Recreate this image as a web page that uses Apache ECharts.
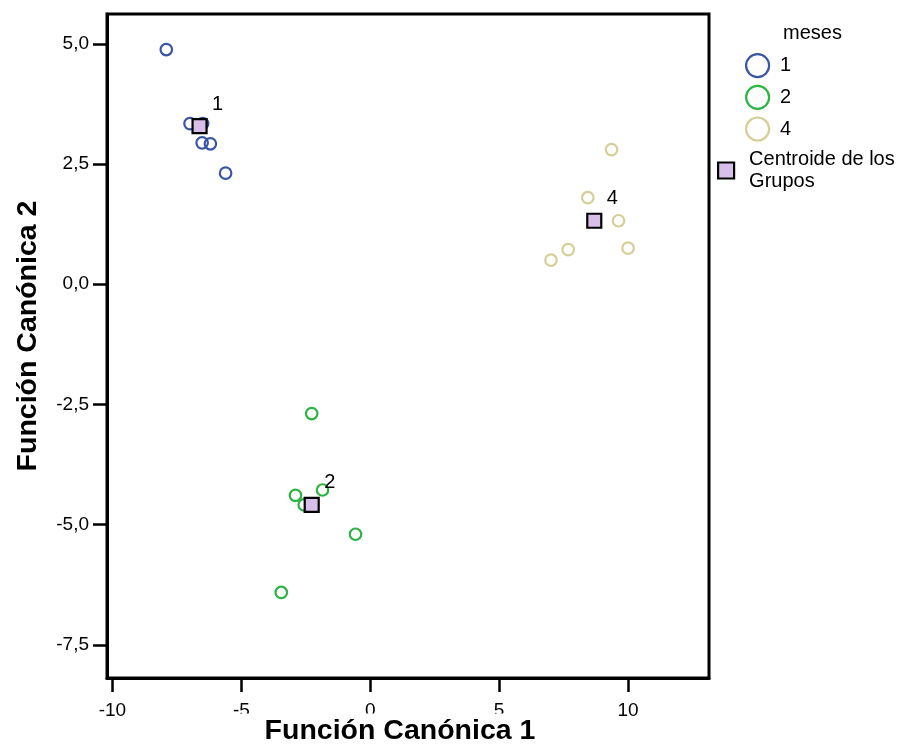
<!DOCTYPE html>
<html>
<head>
<meta charset="utf-8">
<script src="https://cdn.jsdelivr.net/npm/echarts@6/dist/echarts.min.js"></script>
<style>
html,body{margin:0;padding:0;background:#fff;}
#chart{width:904px;height:747px;}
</style>
</head>
<body>
<div id="chart"></div>
<script>
// Group "1" cases
const mes1X = [-7.91, -6.99, -6.50, -6.52, -6.20, -5.61];
const mes1Y = [4.88, 3.34, 3.34, 2.94, 2.92, 2.31];
// Group "2" cases
const mes2X = [-2.27, -2.90, -1.85, -2.56, -0.57, -3.45];
const mes2Y = [-2.69, -4.39, -4.28, -4.59, -5.20, -6.41];
// Group "4" cases
const mes4X = [9.36, 8.44, 9.63, 10.0, 7.68, 7.01];
const mes4Y = [2.80, 1.80, 1.32, 0.75, 0.72, 0.50];
// Group centroids
const centroidNames = ['1', '2', '4'];
const centroidX = [-6.62, -2.27, 8.69];
const centroidY = [3.29, -4.59, 1.32];
// Axis ticks
const xTicks = [-10, -5, 0, 5, 10];
const yTicks = [-7.5, -5, -2.5, 0, 2.5, 5];
const groupNames = ['1', '2', '4'];
const groupColors = ['#3a55a6', '#2bb443', '#d5ce98'];

const zip = (xs, ys) => xs.map((x, i) => [x, ys[i]]);
const groupData = [zip(mes1X, mes1Y), zip(mes2X, mes2Y), zip(mes4X, mes4Y)];

const chart = echarts.init(document.getElementById('chart'), null, {renderer: 'canvas'});
const FONT = 'Liberation Sans, Arial, sans-serif';

const series = groupNames.map((name, i) => ({
  name: name,
  type: 'scatter',
  data: groupData[i],
  symbol: 'circle',
  symbolSize: 11.5,
  itemStyle: {color: 'transparent', borderColor: groupColors[i], borderWidth: 2.2, opacity: 1},
  emphasis: {disabled: true},
  z: 2
}));

series.push({
  name: 'Centroide de los Grupos',
  type: 'scatter',
  data: centroidX.map((x, i) => ({name: centroidNames[i], value: [x, centroidY[i]]})),
  symbol: 'rect',
  symbolSize: 14,
  itemStyle: {color: '#d8bfe9', borderColor: '#000', borderWidth: 2.2, opacity: 1},
  label: {
    show: true, position: 'inside', offset: [18, -22],
    formatter: p => p.name, color: '#000', fontSize: 20, fontFamily: FONT
  },
  emphasis: {disabled: true},
  z: 3
});

chart.setOption({
  animation: false,
  backgroundColor: '#fff',
  grid: {left: 107, top: 14, width: 602, height: 664, show: true, borderColor: '#000', borderWidth: 3, backgroundColor: 'transparent'},
  xAxis: {
    type: 'value', min: -10.21, max: 13.14,
    axisLine: {show: true, onZero: false, lineStyle: {color: '#000', width: 3}},
    axisTick: {show: true, customValues: xTicks, length: 14, lineStyle: {color: '#000', width: 2.5}},
    axisLabel: {customValues: xTicks, margin: 23, color: '#000', fontSize: 19, fontFamily: FONT, formatter: v => String(v)},
    splitLine: {show: false}
  },
  yAxis: {
    type: 'value', min: -8.19, max: 5.62,
    axisLine: {show: true, onZero: false, lineStyle: {color: '#000', width: 3}},
    axisTick: {show: true, customValues: yTicks, length: 14, lineStyle: {color: '#000', width: 2.5}},
    axisLabel: {customValues: yTicks, margin: 18, color: '#000', fontSize: 19, fontFamily: FONT,
      formatter: v => v.toFixed(1).replace('.', ',')},
    splitLine: {show: false}
  },
  title: {text: 'meses', left: 778, top: 18, textStyle: {fontSize: 20, fontWeight: 'normal', color: '#000', fontFamily: FONT}},
  legend: [
    {
      orient: 'vertical', left: 740, top: 48,
      itemWidth: 23, itemHeight: 23, itemGap: 6.5,
      selectedMode: false,
      data: groupNames.map((n, i) => ({name: n, icon: 'circle', itemStyle: {color: 'transparent', borderColor: groupColors[i], borderWidth: 2.2}})),
      textStyle: {fontSize: 20, color: '#000', fontFamily: FONT, padding: [0, 0, 0, 6]}
    },
    {
      orient: 'vertical', left: 712, top: 144,
      itemWidth: 16, itemHeight: 16,
      selectedMode: false,
      data: [{name: 'Centroide de los Grupos', icon: 'rect', itemStyle: {color: '#d8bfe9', borderColor: '#000', borderWidth: 2.2}}],
      formatter: () => 'Centroide de los\nGrupos',
      textStyle: {fontSize: 20, lineHeight: 21.5, color: '#000', fontFamily: FONT, padding: [0, 0, 0, 10]}
    }
  ],
  graphic: [
    {
      type: 'text', x: 400, y: 731,
      style: {text: 'Función Canónica 1', font: 'bold 28.5px ' + FONT, fill: '#000', align: 'center', verticalAlign: 'middle',
        backgroundColor: '#fff', padding: [0, 40, 6, 40]},
      z: 100
    },
    {
      type: 'text', x: 28, y: 336, rotation: Math.PI / 2,
      style: {text: 'Función Canónica 2', font: 'bold 28.5px ' + FONT, fill: '#000', align: 'center', verticalAlign: 'middle'},
      z: 100
    }
  ],
  series: series
});
</script>
</body>
</html>
